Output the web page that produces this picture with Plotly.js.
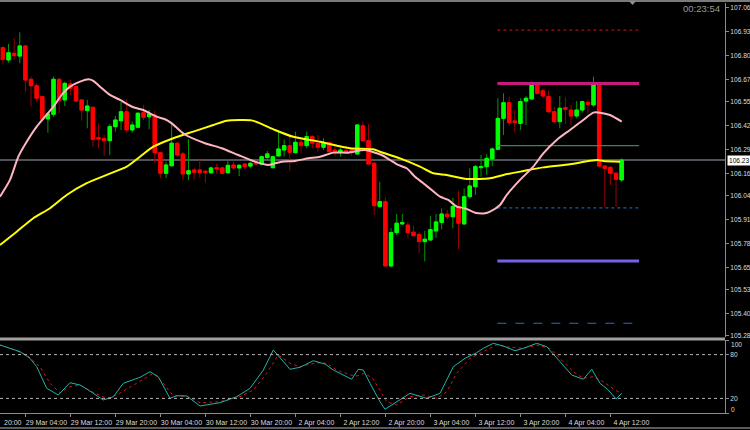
<!DOCTYPE html>
<html><head><meta charset="utf-8">
<script src="https://cdn.plot.ly/plotly-3.0.1.min.js"></script>
<style>html,body{margin:0;padding:0;background:#000;}#chart{width:750px;height:430px;}</style>
</head><body><div id="chart"></div>
<script>
// ---- H1 candles (bar index 0..110), prices ----
const open=[106.845,106.778,106.814,106.799,106.854,106.673,106.638,106.579,106.458,106.483,
106.673,106.561,106.648,106.633,106.561,106.503,106.521,106.356,106.351,106.340,
106.416,106.448,106.497,106.398,106.413,106.492,106.470,106.479,106.275,106.163,
106.204,106.326,106.268,106.159,106.181,106.181,106.174,106.166,106.193,106.192,
106.166,106.208,106.192,106.213,106.202,106.223,106.212,106.248,106.193,106.257,
106.289,106.313,106.275,106.331,106.313,106.362,106.326,106.304,106.329,106.289,
106.275,106.286,106.289,106.268,106.421,106.340,106.217,105.982,106.009,105.660,
105.841,105.888,105.882,105.843,105.831,105.792,105.801,105.850,105.896,105.941,
105.927,105.982,105.888,106.036,106.090,106.193,106.199,106.240,106.293,106.461,
106.546,106.447,106.434,106.555,106.566,106.642,106.611,106.579,106.497,106.443,
106.519,106.506,106.474,106.506,106.548,106.534,106.648,106.202,106.195,106.163,106.127];
const high=[106.851,106.865,106.896,106.928,106.859,106.687,106.651,106.585,106.496,106.687,
106.678,106.660,106.669,106.642,106.564,106.561,106.523,106.434,106.371,106.429,
106.474,106.551,106.566,106.443,106.493,106.534,106.506,106.503,106.280,106.226,
106.443,106.334,106.280,106.347,106.192,106.235,106.181,106.199,106.213,106.199,
106.230,106.226,106.213,106.220,106.226,106.231,106.257,106.284,106.257,106.398,
106.347,106.362,106.389,106.344,106.389,106.371,106.371,106.353,106.334,106.313,
106.299,106.313,106.299,106.430,106.443,106.430,106.226,106.117,106.033,105.866,
105.942,105.942,105.900,105.879,105.843,105.850,105.931,105.942,105.973,105.964,
106.030,106.068,106.081,106.190,106.208,106.262,106.266,106.304,106.570,106.597,
106.579,106.506,106.570,106.582,106.648,106.648,106.624,106.611,106.524,106.582,
106.575,106.534,106.555,106.557,106.564,106.687,106.648,106.208,106.202,106.172,106.244];
const low=[106.753,106.763,106.778,106.760,106.606,106.524,106.551,106.452,106.383,106.470,
106.489,106.528,106.588,106.551,106.448,106.407,106.307,106.299,106.257,106.262,
106.389,106.398,106.383,106.383,106.407,106.452,106.402,106.217,106.136,106.136,
106.199,106.253,106.127,106.127,106.127,106.141,106.112,106.159,106.159,106.159,
106.159,106.181,106.148,106.185,106.190,106.208,106.206,106.235,106.192,106.253,
106.253,106.177,106.271,106.271,106.299,106.299,106.280,106.289,106.271,106.262,
106.253,106.271,106.257,106.262,106.334,106.208,105.937,105.982,105.658,105.652,
105.828,105.882,105.810,105.823,105.729,105.684,105.796,105.812,105.859,105.912,
105.864,105.750,105.882,106.027,106.045,106.144,106.154,106.202,106.289,106.371,
106.420,106.383,106.398,106.425,106.561,106.588,106.579,106.492,106.434,106.407,
106.430,106.425,106.461,106.492,106.489,106.524,106.195,105.982,106.099,105.982,106.117];
const close=[106.782,106.817,106.801,106.854,106.669,106.638,106.570,106.456,106.485,106.673,
106.557,106.651,106.624,106.555,106.506,106.528,106.347,106.349,106.340,106.416,
106.452,106.497,106.398,106.425,106.489,106.467,106.485,106.275,106.163,106.208,
106.326,106.262,106.159,106.177,106.168,106.166,106.168,106.192,106.186,106.163,
106.206,106.192,106.206,106.199,106.217,106.213,106.253,106.268,106.253,106.295,
106.313,106.277,106.331,106.313,106.362,106.326,106.304,106.326,106.280,106.278,
106.289,106.278,106.277,106.425,106.340,106.213,105.987,106.009,105.660,105.841,
105.892,105.895,105.841,105.824,105.792,105.805,105.857,105.899,105.942,105.928,
105.983,105.892,106.036,106.094,106.199,106.199,106.244,106.295,106.461,106.546,
106.438,106.438,106.552,106.570,106.642,106.597,106.582,106.497,106.443,106.516,
106.510,106.474,106.506,106.552,106.537,106.648,106.202,106.190,106.163,106.130,106.235];

// ---- moving averages (bar position, price) ----
const pinkX=[-0.52,1.26,2.74,4.23,6.01,7.48,8.96,10.45,11.93,13.71,15.18,16.07,17.26,19.04,20.82,23.18,24.96,27.34,28.82,30.01,32.2,35.93,38.9,41.85,44.82,47.18,49.56,51.93,54.29,56.37,58.74,61.4,64.37,67.34,68.82,70.29,71.79,73.26,74.74,76.23,77.71,79.18,80.68,82.15,83.93,85.71,86.6,88.37,89.56,91.93,94.29,96.07,98.45,100.82,103.18,104.96,106.15,107.93,110.01];
const pinkY=[106.036,106.127,106.253,106.334,106.416,106.470,106.524,106.588,106.633,106.660,106.673,106.665,106.633,106.588,106.561,106.521,106.506,106.470,106.456,106.434,106.376,106.326,106.299,106.262,106.226,106.208,106.226,106.230,106.244,106.253,106.275,106.275,106.289,106.262,106.235,106.208,106.190,106.144,106.109,106.072,106.036,106.018,105.982,105.973,105.949,105.946,105.955,105.991,106.045,106.127,106.199,106.271,106.344,106.398,106.452,106.492,106.492,106.479,106.443];
const yellowX=[-0.52,2.45,5.4,8.37,11.34,14.9,18.45,22.01,24.37,26.74,30.3,33.85,37.4,39.79,44.23,46.01,48.37,51.63,56.37,61.7,65.85,67.04,70.6,74.15,76.52,78.9,82.45,86.6,88.96,92.52,96.07,100.82,104.37,105.85,106.74,109.71];
const yellowY=[105.774,105.846,105.919,105.973,106.045,106.109,106.154,106.199,106.253,106.307,106.353,106.389,106.425,106.448,106.450,106.430,106.398,106.361,106.334,106.299,106.293,106.280,106.244,106.199,106.163,106.154,106.132,106.136,106.154,106.175,106.195,106.212,106.231,106.235,106.230,106.226];

// ---- stochastic oscillator ----
const stochMainX=[-0.52,1.26,3.04,4.82,6.01,7.79,9.85,11.93,13.71,15.18,17.85,19.63,21.4,24.37,26.15,27.63,29.7,30.9,32.68,35.04,38.6,41.56,43.93,46.3,48.07,51.04,52.82,55.18,57.26,58.74,62.01,63.18,64.07,65.26,67.04,67.93,70.01,72.37,75.34,77.71,80.07,82.15,84.23,85.4,87.18,88.96,91.04,92.52,94.9,96.68,99.04,101.12,103.18,104.68,106.15,107.63,109.0,110.01];
const stochMainY=[93.2,88.6,84.0,74.9,63.4,33.8,24.7,41.5,38.4,31.5,17.8,22.3,40.7,48.9,56.6,49.7,20.1,23.7,23.3,9.6,14.1,22.3,33.8,58.9,86.3,59.9,62.6,71.6,67.1,58.9,46.2,59.9,58.9,40.7,15.5,5.1,15.5,27.0,20.1,27.0,63.4,74.9,82.6,88.6,95.5,91.8,85.3,88.6,95.5,90.8,70.3,52.1,46.2,59.9,40.7,31.5,19.2,27.0];
const stochSigX=[-0.52,1.85,4.23,6.6,8.37,10.15,11.93,13.71,15.79,18.45,20.23,22.6,24.96,26.74,28.52,30.29,32.68,35.04,38.6,42.15,44.52,46.9,48.96,51.04,52.82,55.79,57.56,59.34,61.71,62.9,64.37,65.85,67.04,68.23,70.01,72.37,74.74,77.12,78.9,80.68,83.04,85.41,87.79,90.15,92.52,94.9,97.26,99.63,101.41,103.18,104.96,106.74,108.82,110.01];
const stochSigY=[93.2,87.3,79.5,63.4,40.7,27.8,36.0,38.4,29.2,20.1,24.7,36.0,46.2,54.4,40.7,23.3,23.3,14.1,15.5,22.3,31.5,54.4,79.5,68.1,63.4,68.9,68.1,58.9,52.1,50.7,54.4,46.2,31.5,15.5,11.0,22.3,24.7,20.1,29.2,54.4,74.9,84.0,93.2,90.0,88.6,93.2,88.6,70.3,56.6,47.5,49.7,42.9,31.5,27.0];
const stochLevels=[80,20];

// ---- drawn horizontal objects (price, from bar, to bar) ----
const levelPrices=[106.94,106.65,106.313,105.975,105.687,105.349];
const levelFrom=87.9, levelTo=113.1;

// ---- axis labels ----
const priceTicks=[107.06,106.93,106.80,106.67,106.55,106.42,106.29,106.16,106.04,105.91,105.78,105.65,105.53,105.40,105.28];
const stochTicks=[0,20,80,100];
const timeTickBars=[4,12,20,28,36,44,52,60,68,76,84,92,100,108];
const timeTickText=['29 Mar 04:00','29 Mar 12:00','29 Mar 20:00','30 Mar 04:00','30 Mar 12:00','30 Mar 20:00','2 Apr 04:00','2 Apr 12:00','2 Apr 20:00','3 Apr 04:00','3 Apr 12:00','3 Apr 20:00','4 Apr 04:00','4 Apr 12:00'];
const firstVisibleLabel='20:00';   // tail of the 28 Mar 20:00 label at the left edge
const clockText='00:23:54';

// ---- styles ----
const levelStyles=[
 {color:'#c81414',width:1,dash:'dot'},
 {color:'#c8197f',width:3,dash:'solid'},
 {color:'#2e8b57',width:1.2,dash:'solid'},
 {color:'#1e78d2',width:1,dash:'dot'},
 {color:'#7b5fe6',width:3,dash:'solid'},
 {color:'#2a6fb0',width:1,dash:'dash'}
];

const bars=open.map((_,i)=>i);
const bodyHigh=open.map((o,i)=>Math.max(o,close[i]));
const bodyLow=open.map((o,i)=>Math.min(o,close[i]));
const lastClose=close[close.length-1];

const traces=[];
traces.push({type:'candlestick',x:bars,open:open,high:high,low:low,close:close,xaxis:'x',yaxis:'y',
 increasing:{line:{color:'#009a00',width:1},fillcolor:'#009a00'},
 decreasing:{line:{color:'#9a0000',width:1},fillcolor:'#9a0000'},whiskerwidth:0,hoverinfo:'skip'});
traces.push({type:'candlestick',x:bars,open:open,high:bodyHigh,low:bodyLow,close:close,xaxis:'x',yaxis:'y',
 increasing:{line:{color:'#00ff00',width:1},fillcolor:'#00ff00'},
 decreasing:{line:{color:'#ff0000',width:1},fillcolor:'#ff0000'},whiskerwidth:0,hoverinfo:'skip'});
levelPrices.forEach((p,k)=>{
 traces.push({type:'scatter',mode:'lines',x:[levelFrom,levelTo],y:[p,p],xaxis:'x',yaxis:'y',line:levelStyles[k],hoverinfo:'skip'});
});
traces.push({type:'scatter',mode:'lines',x:yellowX,y:yellowY,xaxis:'x',yaxis:'y',line:{color:'#ffff00',width:2,shape:'spline',smoothing:0.6},hoverinfo:'skip'});
traces.push({type:'scatter',mode:'lines',x:pinkX,y:pinkY,xaxis:'x',yaxis:'y',line:{color:'#ffb6c1',width:2,shape:'spline',smoothing:0.6},hoverinfo:'skip'});
traces.push({type:'scatter',mode:'lines',x:stochSigX,y:stochSigY,xaxis:'x',yaxis:'y2',line:{color:'#d41414',width:1,dash:'dot'},hoverinfo:'skip'});
traces.push({type:'scatter',mode:'lines',x:stochMainX,y:stochMainY,xaxis:'x',yaxis:'y2',line:{color:'#20b2aa',width:1},hoverinfo:'skip'});

const axisGray='#8c8c8c';
const shapes=[
 {type:'line',xref:'paper',yref:'paper',x0:0,x1:1.04,y0:1.0049,y1:1.0049,line:{color:'#7a7a7a',width:2}},
 {type:'line',xref:'paper',yref:'paper',x0:0,x1:1,y0:0.1805,y1:0.1805,line:{color:'#a0a0a0',width:3}},
 {type:'line',xref:'paper',yref:'paper',x0:0,x1:1.04,y0:-0.0366,y1:-0.0366,line:{color:'#7a7a7a',width:1.5}},
 {type:'line',xref:'paper',yref:'y',x0:0,x1:1,y0:lastClose,y1:lastClose,line:{color:'#6e6e78',width:1.5},layer:'below'},
 {type:'path',xref:'paper',yref:'paper',path:'M 0.8676 1.0049 L 0.8772 1.0049 L 0.8724 0.9951 Z',fillcolor:'#909090',line:{width:0}}
];
stochLevels.forEach(v=>shapes.push({type:'line',xref:'paper',yref:'y2',x0:0,x1:1,y0:v,y1:v,line:{color:'#b4b4b4',width:1,dash:'dot'}}));

const tickFont={family:'Liberation Sans, Arial, sans-serif',size:6.6,color:'#dcdcdc'};
const annotations=[
 {xref:'paper',yref:'y',x:1,xanchor:'left',xshift:2,y:lastClose,yanchor:'middle',text:lastClose.toFixed(2),showarrow:false,bgcolor:'#ffffff',font:{color:'#000000',size:6.6},borderpad:1},
 {xref:'paper',yref:'paper',x:0.9959,xanchor:'right',y:0.9878,yanchor:'middle',text:clockText,showarrow:false,font:{color:'#9a9a9a',size:9.5}},
 {xref:'paper',yref:'paper',x:0,xanchor:'left',xshift:2,y:-0.022,yanchor:'middle',text:firstVisibleLabel,showarrow:false},
 // end labels of the oscillator scale, kept inside the window as the terminal does
 {xref:'paper',yref:'y2',x:1,xanchor:'left',xshift:4,y:stochTicks[3],yshift:-4,yanchor:'middle',text:String(stochTicks[3]),showarrow:false,font:tickFont},
 {xref:'paper',yref:'y2',x:1,xanchor:'left',xshift:4,y:stochTicks[0],yshift:4,yanchor:'middle',text:String(stochTicks[0]),showarrow:false,font:tickFont}
];

const layout={
 width:750,height:430,margin:{l:0,r:25,t:3,b:17},
 paper_bgcolor:'#000000',plot_bgcolor:'#000000',
 font:{family:'Liberation Sans, Arial, sans-serif',size:7,color:'#dcdcdc'},
 showlegend:false,hovermode:false,boxgap:0.4,boxgroupgap:0,
 xaxis:{range:[-0.516,128.373],anchor:'y2',showgrid:false,zeroline:false,showline:true,linecolor:axisGray,linewidth:1,
  ticks:'outside',ticklen:3,tickcolor:axisGray,tickvals:timeTickBars,ticktext:timeTickText,ticklabelshift:21,
  rangeslider:{visible:false},fixedrange:true},
 yaxis:{domain:[0.1854,1],range:[105.2745,107.087],side:'right',anchor:'x',showgrid:false,zeroline:false,showline:true,
  linecolor:axisGray,ticks:'outside',ticklen:3,tickcolor:axisGray,tickvals:priceTicks,ticktext:priceTicks.map(v=>v.toFixed(2)),
  tickfont:tickFont,fixedrange:true},
 yaxis2:{domain:[0,0.178],range:[0,100],side:'right',anchor:'x',showgrid:false,zeroline:false,showline:true,
  linecolor:axisGray,ticks:'outside',ticklen:3,tickcolor:axisGray,tickvals:stochTicks,
  ticktext:stochTicks.map((v,k)=>(k===0||k===stochTicks.length-1)?'':String(v)),tickfont:tickFont,fixedrange:true},
 shapes:shapes,annotations:annotations
};
Plotly.newPlot('chart',traces,layout,{staticPlot:true,displayModeBar:false});
</script></body></html>
